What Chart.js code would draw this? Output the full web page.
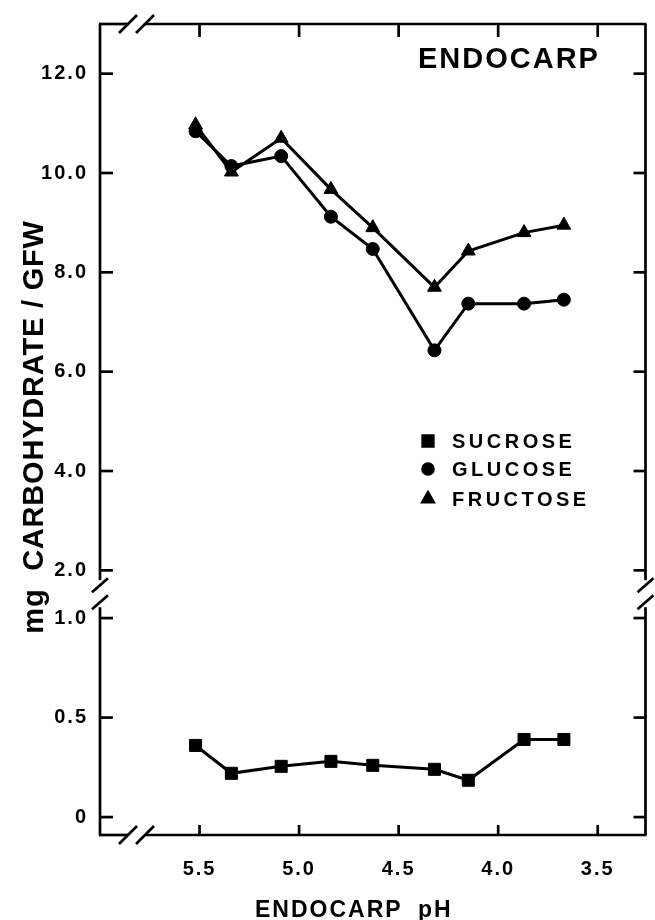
<!DOCTYPE html>
<html lang="en">
<head>
  <meta charset="UTF-8" />
  <title>Endocarp carbohydrate vs pH</title>
  <script src="https://cdn.jsdelivr.net/npm/chart.js"></script>
  <style>
    body { margin: 0; background: #fff; }
    #grafica { display: block; }
  </style>
</head>
<body>
  <canvas id="grafica" width="655" height="920"></canvas>

  <script>
    // values
    const ph = [5.52, 5.34, 5.09, 4.84, 4.63, 4.32, 4.15, 3.87, 3.67];
    const sucrose = [0.36, 0.22, 0.255, 0.28, 0.26, 0.24, 0.185, 0.39, 0.39];
    const glucose = [10.84, 10.14, 10.34, 9.12, 8.47, 6.43, 7.37, 7.37, 7.45];
    const fructose = [10.97, 10.02, 10.7, 9.67, 8.9, 7.7, 8.43, 8.8, 8.95];
    const xTicks = [5.5, 5.0, 4.5, 4.0, 3.5];
    const yHighTicks = [2, 4, 6, 8, 10, 12];
    const yLowTicks = [0, 0.5, 1.0];

    const FAM = "'Liberation Sans', Arial, Helvetica, sans-serif";
    const tickFont = { family: FAM, size: 20, weight: 'bold' };

    function puntos(ys) {
      return ph.map((x, i) => ({ x: x, y: ys[i] }));
    }

    function serie(label, ys, eje, estilo, radio) {
      return {
        label: label,
        data: puntos(ys),
        yAxisID: eje,
        borderColor: '#000',
        backgroundColor: '#000',
        borderWidth: 3,
        pointStyle: estilo,
        pointRadius: radio,
        pointHoverRadius: radio,
        pointBackgroundColor: '#000',
        pointBorderColor: '#000',
        pointBorderWidth: 1,
        tension: 0,
        clip: false
      };
    }

    // frame with breaks, inward ticks, labels drawn on top
    const marco = {
      id: 'marco',
      beforeDraw(chart) {
        chart.ctx.letterSpacing = '2px';
      },
      afterDraw(chart) {
        const { ctx, chartArea: a, scales } = chart;
        const yb = scales.yHigh.bottom;
        const g1 = yb - 14, g2 = yb + 13;
        ctx.save();
        ctx.strokeStyle = '#000';
        ctx.fillStyle = '#000';
        ctx.lineWidth = 2.7;
        ctx.lineCap = 'butt';

        const linea = (x1, y1, x2, y2) => {
          ctx.beginPath(); ctx.moveTo(x1, y1); ctx.lineTo(x2, y2); ctx.stroke();
        };

        // frame
        linea(a.left, a.top, a.left, g1);
        linea(a.left, g2, a.left, a.bottom);
        linea(a.right, a.top, a.right, g1);
        linea(a.right, g2, a.right, a.bottom);
        linea(a.left - 1, a.bottom, 128, a.bottom);
        linea(145, a.bottom, a.right + 1, a.bottom);
        linea(a.left - 1, a.top, 128, a.top);
        linea(145, a.top, a.right + 1, a.top);

        // break marks
        [g1 + 5, g2 - 5].forEach(y => {
          linea(a.left - 8, y + 7, a.left + 8, y - 7);
          linea(a.right - 8, y + 7, a.right + 8, y - 7);
        });
        [128, 145].forEach(x => {
          linea(x - 9, a.top + 9, x + 9, a.top - 9);
          linea(x - 9, a.bottom + 9, x + 9, a.bottom - 9);
        });

        // inward tick marks
        ['yHigh', 'yLow'].forEach(id => {
          scales[id].ticks.forEach(t => {
            const y = scales[id].getPixelForValue(t.value);
            linea(a.left, y, a.left + 13, y);
            linea(a.right - 12, y, a.right, y);
          });
        });
        scales.x.ticks.forEach(t => {
          const x = scales.x.getPixelForValue(t.value);
          linea(x, a.bottom, x, a.bottom - 10);
          linea(x, a.top, x, a.top + 13);
        });

        // panel title
        ctx.textBaseline = 'alphabetic';
        ctx.textAlign = 'left';
        ctx.letterSpacing = '2px';
        ctx.font = 'bold 29px ' + FAM;
        ctx.fillText('ENDOCARP', 418, 68);

        // legend
        ctx.letterSpacing = '3.5px';
        ctx.font = 'bold 20px ' + FAM;
        ctx.textBaseline = 'middle';
        const filas = [
          { ds: 0, y: 441, r: 7.5 },
          { ds: 1, y: 469, r: 5.5 },
          { ds: 2, y: 499, r: 6.5 }
        ];
        filas.forEach(f => {
          const ds = chart.data.datasets[f.ds];
          Chart.helpers.drawPoint(ctx, { pointStyle: ds.pointStyle, radius: f.r, rotation: 0, borderWidth: 1 }, 428, f.y);
          ctx.fillText(ds.label, 452, f.y + 1);
        });

        // axis titles
        ctx.textBaseline = 'alphabetic';
        ctx.letterSpacing = '2px';
        ctx.font = 'bold 23px ' + FAM;
        ctx.fillText('ENDOCARP', 255, 917);
        ctx.fillText('pH', 418, 917);

        ctx.save();
        ctx.translate(43, 427);
        ctx.rotate(-Math.PI / 2);
        ctx.textAlign = 'center';
        ctx.letterSpacing = '0.8px';
        ctx.font = 'bold 29px ' + FAM;
        ctx.fillText('mg  CARBOHYDRATE / GFW', 0, 0);
        ctx.restore();

        ctx.restore();
        ctx.letterSpacing = '0px';
      }
    };

    const ejeY = (ticksArr, fmt, extra) => Object.assign({
      type: 'linear',
      position: 'left',
      stack: 'izq',
      grid: { display: false, drawTicks: false },
      border: { display: false },
      afterBuildTicks: s => { s.ticks = ticksArr.map(v => ({ value: v })); },
      afterFit: s => { s.width = 100; },
      ticks: { color: '#000', font: tickFont, padding: 12, autoSkip: false, callback: fmt }
    }, extra);

    new Chart(document.getElementById('grafica'), {
      type: 'line',
      data: {
        datasets: [
          serie('SUCROSE', sucrose, 'yLow', 'rect', 8.5),
          serie('GLUCOSE', glucose, 'yHigh', 'circle', 6.5),
          serie('FRUCTOSE', fructose, 'yHigh', 'triangle', 8)
        ]
      },
      options: {
        responsive: false,
        animation: false,
        layout: { padding: { left: 0, right: 6, top: 20, bottom: 0 } },
        plugins: { legend: { display: false }, tooltip: { enabled: false } },
        scales: {
          x: {
            type: 'linear',
            reverse: true,
            min: 3.26,
            max: 6.0,
            grid: { display: false, drawTicks: false },
            border: { display: false },
            afterBuildTicks: s => { s.ticks = xTicks.map(v => ({ value: v })); },
            afterFit: s => { s.height = 85; },
            ticks: { color: '#000', font: tickFont, padding: 22, autoSkip: false, maxRotation: 0,
                     callback: v => v.toFixed(1) }
          },
          yLow: ejeY(yLowTicks, v => v === 0 ? '0' : v.toFixed(1), { stackWeight: 242, min: -0.09, max: 1.12 }),
          yHigh: ejeY(yHighTicks, v => v.toFixed(1), { stackWeight: 573, min: 1.52, max: 13.0 })
        }
      },
      plugins: [marco]
    });
  </script>
</body>
</html>
